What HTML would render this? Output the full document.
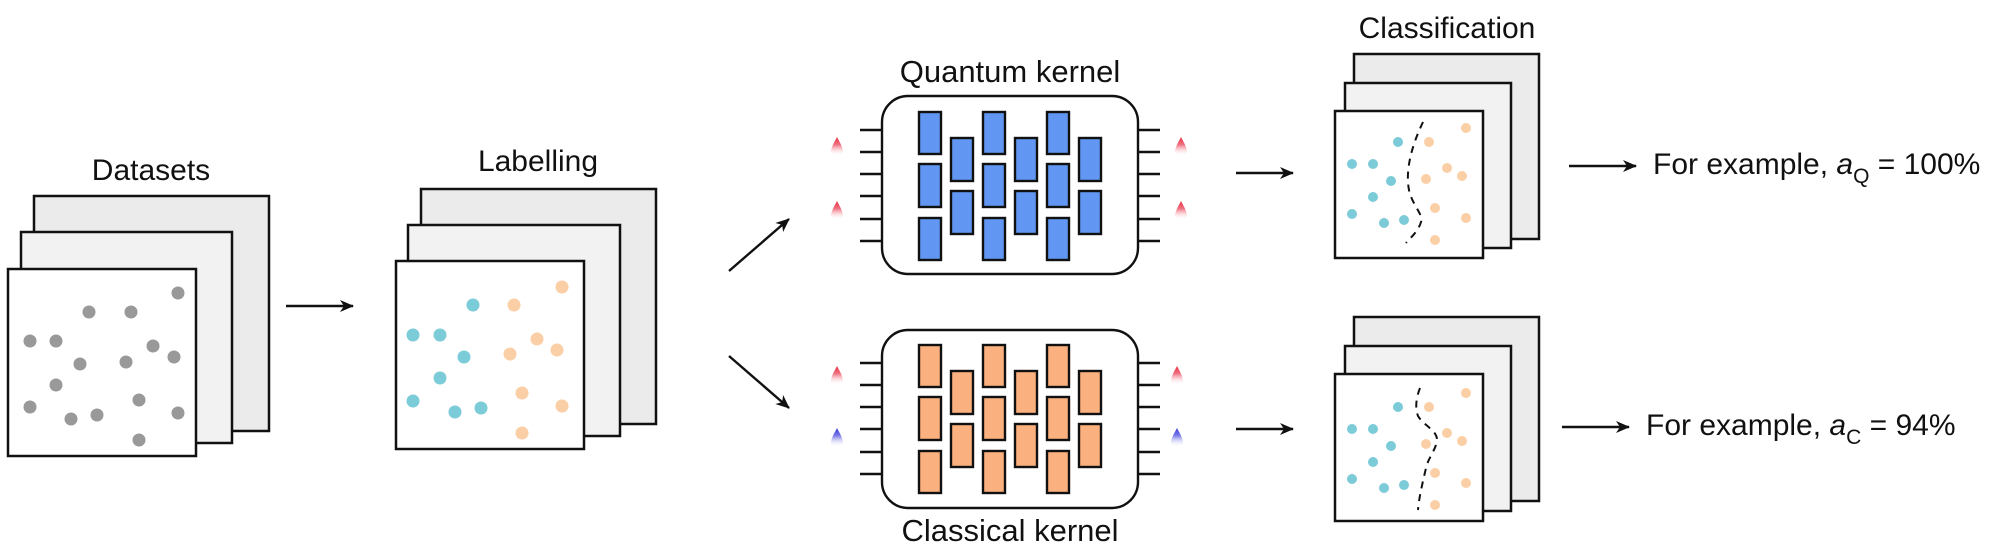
<!DOCTYPE html>
<html><head><meta charset="utf-8"><style>
html,body{margin:0;padding:0;background:#fff;}
svg{display:block;}
text{font-family:"Liberation Sans",sans-serif;fill:#111;}
</style></head><body>
<svg width="2000" height="553" viewBox="0 0 2000 553" xmlns="http://www.w3.org/2000/svg">
<defs>
<marker id="ah" markerWidth="14" markerHeight="12" refX="13" refY="6" orient="auto" markerUnits="userSpaceOnUse">
<path d="M0,0 L14,6 L0,12 L4,6 Z" fill="#111"/></marker>
<linearGradient id="red" x1="0" y1="0" x2="0" y2="1"><stop offset="0" stop-color="#e8303f"/><stop offset="0.4" stop-color="#f07080"/><stop offset="1" stop-color="#fff" stop-opacity="0"/></linearGradient>
<linearGradient id="blu" x1="0" y1="0" x2="0" y2="1"><stop offset="0" stop-color="#3a3ad8"/><stop offset="0.4" stop-color="#7a7ae8"/><stop offset="1" stop-color="#fff" stop-opacity="0"/></linearGradient>
<g id="flameR"><path d="M0,0 C2,4 6,10 6,15 C6,20 -6,20 -6,15 C-6,10 -2,4 0,0 Z" fill="url(#red)"/></g>
<g id="flameB"><path d="M0,0 C2,4 6,10 6,15 C6,20 -6,20 -6,15 C-6,10 -2,4 0,0 Z" fill="url(#blu)"/></g>
</defs>
<g stroke="#111" stroke-width="2.5">
<rect x="34" y="196" width="235" height="235" fill="#ebebeb"/>
<rect x="21" y="232" width="211" height="211" fill="#f2f2f2"/>
<rect x="8" y="269" width="188" height="187" fill="#fff"/>
<rect x="421" y="189" width="235" height="235" fill="#ebebeb"/>
<rect x="408" y="225" width="212" height="211" fill="#f2f2f2"/>
<rect x="396" y="261" width="188" height="188" fill="#fff"/>
<rect x="1354" y="54" width="185" height="185" fill="#ebebeb"/>
<rect x="1345" y="83" width="166" height="165" fill="#f2f2f2"/>
<rect x="1335" y="111" width="148" height="147" fill="#fff"/>
<rect x="1354" y="317" width="185" height="184" fill="#ebebeb"/>
<rect x="1345" y="346" width="166" height="165" fill="#f2f2f2"/>
<rect x="1335" y="374" width="148" height="147" fill="#fff"/>
</g>
<text x="151" y="180" font-size="30" text-anchor="middle">Datasets</text>
<text x="538" y="171" font-size="30" text-anchor="middle">Labelling</text>
<text x="1447" y="38" font-size="30" text-anchor="middle">Classification</text>
<text x="1010" y="82" font-size="31" text-anchor="middle">Quantum kernel</text>
<text x="1010" y="541" font-size="31" text-anchor="middle">Classical kernel</text>
<g fill="#999">
<circle cx="178" cy="293" r="6.5"/><circle cx="89" cy="312" r="6.5"/><circle cx="131" cy="312" r="6.5"/>
<circle cx="30" cy="341" r="6.5"/><circle cx="56" cy="341" r="6.5"/><circle cx="153" cy="346" r="6.5"/>
<circle cx="174" cy="357" r="6.5"/><circle cx="80" cy="364" r="6.5"/><circle cx="126" cy="362" r="6.5"/>
<circle cx="56" cy="385" r="6.5"/><circle cx="30" cy="407" r="6.5"/><circle cx="139" cy="400" r="6.5"/>
<circle cx="71" cy="419" r="6.5"/><circle cx="97" cy="415" r="6.5"/><circle cx="178" cy="413" r="6.5"/>
<circle cx="139" cy="440" r="6.5"/>
</g>
<g fill="#7ccbd8">
<circle cx="473" cy="305" r="6.5"/><circle cx="413" cy="335" r="6.5"/><circle cx="440" cy="335" r="6.5"/>
<circle cx="464" cy="357" r="6.5"/><circle cx="440" cy="378" r="6.5"/><circle cx="413" cy="401" r="6.5"/>
<circle cx="455" cy="412" r="6.5"/><circle cx="481" cy="408" r="6.5"/>
</g>
<g fill="#fbcfa6">
<circle cx="562" cy="287" r="6.5"/><circle cx="514" cy="305" r="6.5"/><circle cx="537" cy="339" r="6.5"/>
<circle cx="510" cy="354" r="6.5"/><circle cx="557" cy="350" r="6.5"/><circle cx="522" cy="393" r="6.5"/>
<circle cx="562" cy="406" r="6.5"/><circle cx="522" cy="433" r="6.5"/>
</g>
<g stroke="#111" stroke-width="2.4" fill="none" marker-end="url(#ah)">
<line x1="286" y1="306" x2="353" y2="306"/>
<line x1="729" y1="271" x2="789" y2="219"/>
<line x1="729" y1="356" x2="789" y2="408"/>
<line x1="1236" y1="173" x2="1293" y2="173"/>
<line x1="1236" y1="429" x2="1293" y2="429"/>
<line x1="1569" y1="166" x2="1636" y2="166"/>
<line x1="1562" y1="427" x2="1629" y2="427"/>
</g>
<g stroke="#111" stroke-width="2.4">
<g id="wires">
<line x1="860" y1="130" x2="882" y2="130"/><line x1="860" y1="152" x2="882" y2="152"/><line x1="860" y1="174" x2="882" y2="174"/>
<line x1="860" y1="196" x2="882" y2="196"/><line x1="860" y1="219" x2="882" y2="219"/><line x1="860" y1="241" x2="882" y2="241"/>
<line x1="1138" y1="130" x2="1160" y2="130"/><line x1="1138" y1="152" x2="1160" y2="152"/><line x1="1138" y1="174" x2="1160" y2="174"/>
<line x1="1138" y1="196" x2="1160" y2="196"/><line x1="1138" y1="219" x2="1160" y2="219"/><line x1="1138" y1="241" x2="1160" y2="241"/>
</g>
<use href="#wires" y="233"/>
<rect x="882" y="96" width="256" height="178" rx="26" fill="#fff"/>
<rect x="882" y="330" width="256" height="178" rx="26" fill="#fff"/>
<g fill="#6197f2">
<rect x="919" y="112" width="22" height="42"/><rect x="919" y="164" width="22" height="43"/><rect x="919" y="218" width="22" height="42"/>
<rect x="983" y="112" width="22" height="42"/><rect x="983" y="164" width="22" height="43"/><rect x="983" y="218" width="22" height="42"/>
<rect x="1047" y="112" width="22" height="42"/><rect x="1047" y="164" width="22" height="43"/><rect x="1047" y="218" width="22" height="42"/>
<rect x="951" y="138" width="22" height="43"/><rect x="951" y="191" width="22" height="43"/>
<rect x="1015" y="138" width="22" height="43"/><rect x="1015" y="191" width="22" height="43"/>
<rect x="1079" y="138" width="22" height="43"/><rect x="1079" y="191" width="22" height="43"/>
</g>
<g fill="#fbb07f" transform="translate(0,233)">
<rect x="919" y="112" width="22" height="42"/><rect x="919" y="164" width="22" height="43"/><rect x="919" y="218" width="22" height="42"/>
<rect x="983" y="112" width="22" height="42"/><rect x="983" y="164" width="22" height="43"/><rect x="983" y="218" width="22" height="42"/>
<rect x="1047" y="112" width="22" height="42"/><rect x="1047" y="164" width="22" height="43"/><rect x="1047" y="218" width="22" height="42"/>
<rect x="951" y="138" width="22" height="43"/><rect x="951" y="191" width="22" height="43"/>
<rect x="1015" y="138" width="22" height="43"/><rect x="1015" y="191" width="22" height="43"/>
<rect x="1079" y="138" width="22" height="43"/><rect x="1079" y="191" width="22" height="43"/>
</g>
</g>
<use href="#flameR" x="837" y="137"/><use href="#flameR" x="837" y="201"/>
<use href="#flameR" x="1181" y="137"/><use href="#flameR" x="1181" y="201"/>
<use href="#flameR" x="837" y="366"/><use href="#flameB" x="837" y="428"/>
<use href="#flameR" x="1177" y="366"/><use href="#flameB" x="1177" y="428"/>
<g id="cdots">
<g fill="#7ccbd8">
<circle cx="1398" cy="142" r="5"/><circle cx="1352" cy="164" r="5"/><circle cx="1373" cy="164" r="5"/>
<circle cx="1391" cy="181" r="5"/><circle cx="1373" cy="197" r="5"/><circle cx="1352" cy="214" r="5"/>
<circle cx="1384" cy="223" r="5"/><circle cx="1404" cy="220" r="5"/>
</g>
<g fill="#fbcfa6">
<circle cx="1466" cy="128" r="5"/><circle cx="1429" cy="142" r="5"/><circle cx="1447" cy="168" r="5"/>
<circle cx="1462" cy="176" r="5"/><circle cx="1426" cy="179" r="5"/><circle cx="1435" cy="208" r="5"/>
<circle cx="1466" cy="218" r="5"/><circle cx="1435" cy="240" r="5"/>
</g>
</g>
<use href="#cdots" y="265"/>
<g stroke="#111" stroke-width="2" fill="none" stroke-dasharray="7,6">
<path d="M1423,122 C1412,145 1405,170 1409,190 C1412,205 1424,215 1421,222 C1418,232 1410,238 1406,243"/>
<path d="M1420,388 C1416,398 1415,408 1418,416 C1424,426 1437,430 1437,440 C1436,450 1428,458 1426,468 C1422,485 1419,498 1418,510"/>
</g>
<text x="1653" y="174" font-size="30">For example, <tspan font-style="italic">a</tspan><tspan font-size="21" dy="9">Q</tspan><tspan dy="-9"> = 100%</tspan></text>
<text x="1646" y="435" font-size="30">For example, <tspan font-style="italic">a</tspan><tspan font-size="21" dy="9">C</tspan><tspan dy="-9"> = 94%</tspan></text>
</svg>
</body></html>
